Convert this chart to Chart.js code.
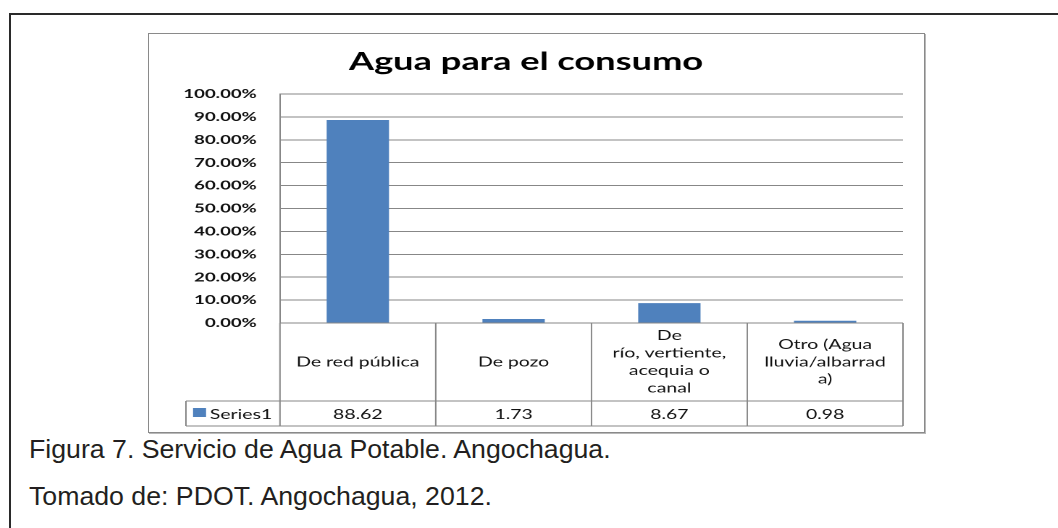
<!DOCTYPE html>
<html>
<head>
<meta charset="utf-8">
<script src="https://cdn.jsdelivr.net/npm/chart.js@4.4.1/dist/chart.umd.min.js"></script>
<style>
  body { margin: 0; width: 1058px; height: 528px; overflow: hidden; position: relative; background: #fff; }
  #frame { position: absolute; left: 9px; top: 13px; width: 1100px; height: 600px;
           border-left: 2px solid #2a2a2a; border-top: 2px solid #2a2a2a; }
  #box { position: absolute; left: 148px; top: 33px; width: 775px; height: 398px;
         border: 1px solid #8a8a8a; box-shadow: 1px 1px 0 #b8b8b8; background: #fff; }
  /* the excel chart was stretched sideways, so the canvas is too */
  #wrap { position: absolute; left: 0; top: 0; width: 535px; height: 398px;
          transform: scaleX(1.4486); transform-origin: 0 0; }
  .cap { position: absolute; left: 29px; font-family: "Liberation Sans", Arial, sans-serif;
         font-size: 26.7px; line-height: 30px; color: #231f20; white-space: nowrap; }
</style>
</head>
<body>
<div id="frame"></div>
<div id="box"><div id="wrap"><canvas id="myChart"></canvas></div></div>
<div class="cap" style="top:434px">Figura 7. Servicio de Agua Potable. Angochagua.</div>
<div class="cap" style="top:481px">Tomado de: PDOT. Angochagua, 2012.</div>

<script>
// datos
const categories = [
  ['De red pública'],
  ['De pozo'],
  ['De', 'río, vertiente,', 'acequia o', 'canal'],
  ['Otro (Agua', 'lluvia/albarrad', 'a)']
];
const seriesName = 'Series1';
const values = [88.62, 1.73, 8.67, 0.98];
const yMin = 0;
const yMax = 100;
const yStep = 10;

const barColor = '#4f81bd';
const lineColor = '#878787';
const textColor = '#111';

Chart.defaults.font.family = 'Lato';

// tabla de datos debajo del eje x (como en excel)
const dataTable = {
  id: 'dataTable',
  afterDraw(chart) {
    const { ctx, chartArea: a, scales: { x } } = chart;
    const band = (x.right - x.left) / categories.length;
    const top = a.bottom, mid = a.bottom + 78, bot = a.bottom + 103;
    const legendLeft = 25.5;

    ctx.save();
    ctx.strokeStyle = lineColor;
    ctx.lineWidth = 1;
    ctx.beginPath();
    // verticales
    for (let i = 0; i <= categories.length; i++) {
      const px = x.left + band * i;
      ctx.moveTo(px, top);
      ctx.lineTo(px, bot);
    }
    ctx.moveTo(legendLeft, mid);
    ctx.lineTo(legendLeft, bot);
    // horizontales
    ctx.moveTo(legendLeft, mid);
    ctx.lineTo(x.right, mid);
    ctx.moveTo(legendLeft, bot);
    ctx.lineTo(x.right, bot);
    ctx.stroke();

    ctx.fillStyle = textColor;
    ctx.font = '13.4px Lato';
    ctx.textAlign = 'center';
    ctx.textBaseline = 'middle';
    const lh = 17.4;
    categories.forEach((lines, i) => {
      const cx = x.getPixelForValue(i);
      const cy = (top + mid) / 2 - (lines.length - 1) * lh / 2;
      lines.forEach((t, j) => ctx.fillText(t, cx, cy + j * lh));
      ctx.fillText(values[i].toFixed(2), cx, (mid + bot) / 2 + 1);
    });

    // clave de la serie
    ctx.fillStyle = barColor;
    ctx.fillRect(30.4, 374, 9, 9);
    ctx.fillStyle = textColor;
    ctx.textAlign = 'left';
    ctx.fillText(seriesName, 42, (mid + bot) / 2 + 1);
    ctx.restore();
  }
};

const context = document.getElementById('myChart');

const myChart = new Chart(context, {
  type: 'bar',
  data: {
    labels: categories,
    datasets: [{
      label: seriesName,
      data: values,
      backgroundColor: barColor,
      borderWidth: 0,
      barPercentage: 0.4,
      categoryPercentage: 1
    }]
  },
  options: {
    responsive: true,
    maintainAspectRatio: false,
    devicePixelRatio: 2,
    animation: false,
    layout: { padding: { left: 0, right: 14.5, top: 0, bottom: 109 } },
    plugins: {
      legend: { display: false },
      tooltip: { enabled: false },
      title: {
        display: true,
        text: 'Agua para el consumo',
        color: '#000',
        font: { size: 25, weight: 'bold' },
        padding: { top: 13, bottom: 17 }
      }
    },
    scales: {
      x: { display: false },
      y: {
        min: yMin,
        max: yMax,
        afterFit(scale) { scale.width = 90.4; },
        border: { display: true, color: lineColor, width: 1 },
        grid: { color: lineColor, drawTicks: false },
        ticks: {
          stepSize: yStep,
          padding: 16,
          color: textColor,
          font: { size: 12.8, weight: 'bold' },
          callback: v => v.toFixed(2) + '%'
        }
      }
    }
  },
  plugins: [dataTable]
});
</script>
</body>
</html>
